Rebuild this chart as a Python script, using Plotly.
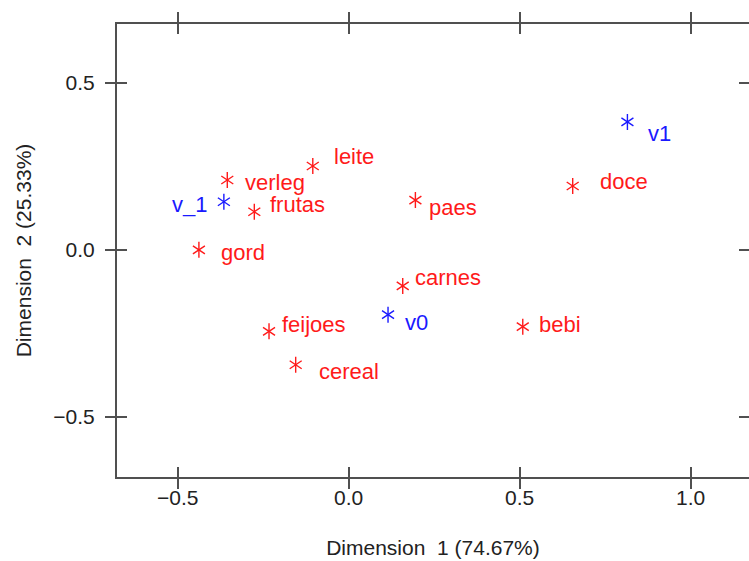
import plotly.graph_objects as go

# Correspondence analysis coordinates: column categories (foods) and row categories
food_names = ["leite", "verleg", "frutas", "paes", "doce", "gord",
              "carnes", "feijoes", "bebi", "cereal"]
food_dim1 = [-0.105, -0.355, -0.276, 0.195, 0.655, -0.438,
             0.158, -0.233, 0.509, -0.155]
food_dim2 = [0.251, 0.209, 0.114, 0.149, 0.191, 0.000,
             -0.108, -0.244, -0.230, -0.344]

var_names = ["v_1", "v0", "v1"]
var_dim1 = [-0.365, 0.115, 0.815]
var_dim2 = [0.144, -0.194, 0.383]

x_ticks = [-0.5, 0.0, 0.5, 1.0]
x_tick_text = ["\u22120.5", "0.0", "0.5", "1.0"]
y_ticks = [-0.5, 0.0, 0.5]
y_tick_text = ["\u22120.5", "0.0", "0.5"]

# label placement (anchor side, x pixel shift, y pixel shift; +y is up)
food_label_offsets = [("left", 19, 9), ("left", 16, -2), ("left", 14, 7),
                      ("left", 12, -7), ("left", 25, 5), ("left", 20, -3),
                      ("left", 10, 8), ("left", 11, 7), ("left", 14, 2),
                      ("left", 21, -7)]
var_label_offsets = [("right", -15, -3), ("left", 15, -8), ("left", 19, -12)]

RED = "#ff1a1a"
BLUE = "#1a1aff"
FRAME = "#505050"
FONT = "Liberation Sans, Arial, sans-serif"

fig = go.Figure()


def add_star_points(xs, ys, names, color):
    # six-armed asterisk built from an upward and a downward "Y"
    for sym in ("y-up-open", "y-down-open"):
        fig.add_trace(go.Scatter(
            x=xs, y=ys, mode="markers",
            marker=dict(symbol=sym, size=10, color=color,
                        line=dict(color=color, width=1.4)),
            hovertext=names, showlegend=False))


add_star_points(food_dim1, food_dim2, food_names, RED)
add_star_points(var_dim1, var_dim2, var_names, BLUE)

# invisible trace so the inner-tick overlay axes are drawn
fig.add_trace(go.Scatter(x=[0], y=[0], xaxis="x2", yaxis="y2",
                         mode="markers", marker=dict(opacity=0),
                         showlegend=False, hoverinfo="skip"))

annotations = []
for names, xs, ys, offs, col in [
        (food_names, food_dim1, food_dim2, food_label_offsets, RED),
        (var_names, var_dim1, var_dim2, var_label_offsets, BLUE)]:
    for n, x, y, (side, dx, dy) in zip(names, xs, ys, offs):
        annotations.append(dict(
            x=x, y=y, xref="x", yref="y", text=n, showarrow=False,
            xanchor=side, yanchor="middle", xshift=dx, yshift=dy,
            font=dict(family=FONT, size=22, color=col)))

x_range = [-0.6775, 1.1705]
y_range = [-0.680, 0.676]

axis_common = dict(showgrid=False, zeroline=False, ticklen=10, tickwidth=1.5,
                   tickcolor=FRAME, automargin=False)

fig.update_layout(
    width=749, height=561,
    margin=dict(l=117, r=0, t=24, b=84),
    paper_bgcolor="white", plot_bgcolor="white",
    font=dict(family=FONT, size=21, color="#222222"),
    annotations=annotations,
    xaxis=dict(range=x_range, tickvals=x_ticks, ticktext=x_tick_text,
               ticks="outside", mirror="ticks", showline=True,
               linecolor=FRAME, linewidth=2, ticklabelstandoff=-9,
               title=dict(text="Dimension  1 (74.67%)", standoff=32,
                          font=dict(size=21)),
               **axis_common),
    yaxis=dict(range=y_range, tickvals=y_ticks, ticktext=y_tick_text,
               ticks="outside", mirror="ticks", showline=True,
               linecolor=FRAME, linewidth=2, ticklabelstandoff=6,
               title=dict(text="Dimension  2 (25.33%)", standoff=16,
                          font=dict(size=21)),
               **axis_common),
    xaxis2=dict(range=x_range, overlaying="x", tickvals=x_ticks,
                ticks="inside", mirror="ticks", showticklabels=False,
                showline=False, **axis_common),
    yaxis2=dict(range=y_range, overlaying="y", tickvals=y_ticks,
                ticks="inside", mirror="ticks", showticklabels=False,
                showline=False, **axis_common),
)

fig.write_html("out.html")
